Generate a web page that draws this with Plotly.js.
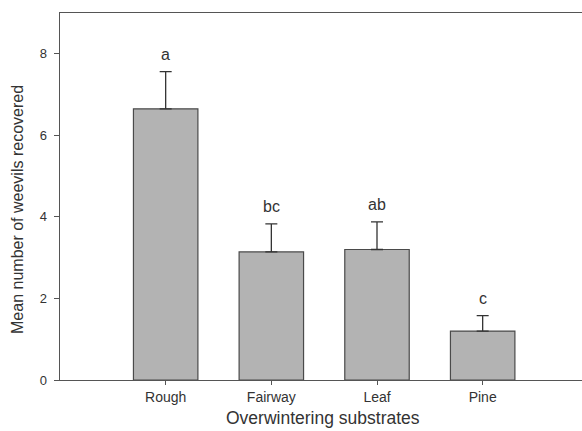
<!DOCTYPE html>
<html>
<head>
<meta charset="utf-8">
<script src="https://cdn.plot.ly/plotly-3.0.1.min.js"></script>
<style>html,body{margin:0;padding:0;background:#fff;}</style>
</head>
<body>
<div id="chart" style="width:582px;height:431px;"></div>
<script>
const categories = ["Rough", "Fairway", "Leaf", "Pine"];
const means = [6.65, 3.14, 3.2, 1.2];
const errors = [0.91, 0.69, 0.68, 0.38];
const letters = ["a", "bc", "ab", "c"];
const yTicks = [0, 2, 4, 6, 8];
const xTitle = "Overwintering substrates";
const yTitle = "Mean number of weevils recovered";

const FONT = "Liberation Sans, Arial, sans-serif";

const bars = {
  type: "bar",
  x: categories,
  y: means,
  width: 0.61,
  marker: {color: "#b3b3b3", line: {color: "#4a4a4a", width: 1.2}},
  error_y: {type: "data", array: errors, symmetric: false, arrayminus: errors.map(() => 0),
            color: "#333333", thickness: 1.3, width: 6},
  hoverinfo: "none",
  showlegend: false
};

const annotations = categories.map((c, i) => ({
  x: c, y: means[i] + errors[i], xref: "x", yref: "y",
  text: letters[i], showarrow: false,
  yanchor: "middle", yshift: 17,
  font: {family: FONT, size: 16, color: "#333"}
}));
annotations.push({
  text: xTitle, xref: "paper", yref: "paper", x: 0.504, y: -0.1035,
  xanchor: "center", yanchor: "middle", showarrow: false,
  font: {family: FONT, size: 17.5, color: "#333"}
});
annotations.push({
  text: yTitle, xref: "paper", yref: "paper", x: -0.0805, y: 0.466,
  xanchor: "center", yanchor: "middle", textangle: -90, showarrow: false,
  font: {family: FONT, size: 16, color: "#333"}
});

const layout = {
  width: 582, height: 431,
  margin: {l: 60, r: 0, t: 13, b: 51},
  paper_bgcolor: "#fff", plot_bgcolor: "#fff",
  font: {family: FONT, color: "#333"},
  annotations: annotations,
  xaxis: {
    type: "category",
    range: [-1, 3.94],
    showline: true, linecolor: "#555", linewidth: 1.3, mirror: true,
    ticks: "outside", ticklen: 4, tickcolor: "#555",
    showgrid: false, zeroline: false,
    tickfont: {size: 14, color: "#333"}
  },
  yaxis: {
    range: [0, 9],
    tickvals: yTicks,
    showline: true, linecolor: "#555", linewidth: 1.3,
    ticks: "outside", ticklen: 5, tickcolor: "#555",
    ticklabelstandoff: 4,
    showgrid: false, zeroline: false,
    tickfont: {size: 13, color: "#333"}
  }
};

Plotly.newPlot("chart", [bars], layout, {displayModeBar: false, staticPlot: true});
</script>
</body>
</html>
